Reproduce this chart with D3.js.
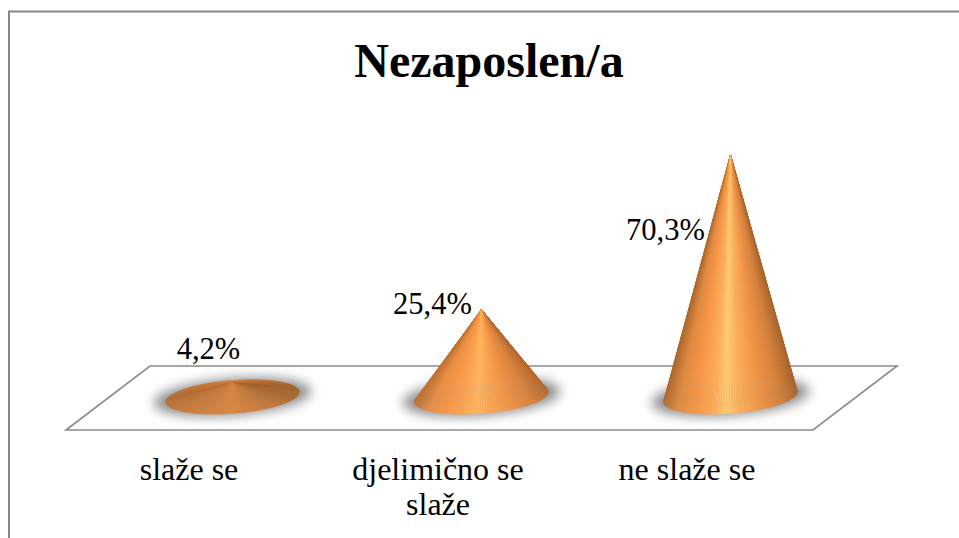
<!DOCTYPE html>
<html>
<head>
<meta charset="utf-8">
<script src="https://cdn.jsdelivr.net/npm/d3@7"></script>
<style>
  html, body { margin: 0; padding: 0; background: #fff; }
  svg { display: block; }
  text { font-family: "Liberation Serif", serif; fill: #000; }
</style>
</head>
<body>
<div id="chart"></div>
<script>
'use strict';

var chartTitle = 'Nezaposlen/a';
var categories = ['slaže se', 'djelimično se\nslaže', 'ne slaže se'];
var values = [4.2, 25.4, 70.3];
var valueLabels = ['4,2%', '25,4%', '70,3%'];

// label position relative to the cone apex, picked by eye per cone
var labelNudge = [[-24, -24], [-49, 4], [-65, 85]];

var width = 959, height = 538;

// the floor is a skewed plane, so front edge and cone row are the same band shifted
var floor = { backY: 366, frontY: 430, frontLeft: 66, frontRight: 813, skew: 84 };
var baseY = 397, baseRx = 67, baseRy = 16.5, baseTilt = -4.5;

var svg = d3.select('#chart').append('svg')
    .attr('width', width)
    .attr('height', height);

var defs = svg.append('defs');

defs.append('filter')
    .attr('id', 'soft')
    .attr('x', '-30%').attr('y', '-80%')
    .attr('width', '160%').attr('height', '260%')
    .append('feGaussianBlur')
    .attr('stdDeviation', 6);

var frontX = d3.scaleBand()
    .domain(categories)
    .range([floor.frontLeft, floor.frontRight]);

var coneX = d3.scaleBand()
    .domain(categories)
    .range([floor.frontLeft + floor.skew / 2, floor.frontRight + floor.skew / 2]);

var y = d3.scaleLinear()
    .domain([0, 100])
    .range([baseY, baseY - 344]);

// chart border, only top and left show in the crop
svg.append('path')
    .attr('d', d3.line()([[9, height], [9, 11.5], [width, 11.5]]))
    .attr('fill', 'none')
    .attr('stroke', '#868686')
    .attr('stroke-width', 2);

svg.append('text')
    .attr('x', 489)
    .attr('y', 77)
    .attr('text-anchor', 'middle')
    .attr('font-size', 48)
    .attr('font-weight', 'bold')
    .text(chartTitle);

svg.append('path')
    .attr('d', d3.line()([
        [floor.frontLeft, floor.frontY],
        [floor.frontLeft + floor.skew, floor.backY],
        [floor.frontRight + floor.skew, floor.backY],
        [floor.frontRight, floor.frontY]
    ]) + 'Z')
    .attr('fill', '#fff')
    .attr('stroke', '#8c8c8c')
    .attr('stroke-width', 1.6);

// category labels with the axis, newlines split afterwards
var axis = svg.append('g')
    .attr('transform', 'translate(-1.5,' + floor.frontY + ')')
    .call(d3.axisBottom(frontX).tickSize(0).tickPadding(0));

axis.select('.domain').remove();

axis.selectAll('text')
    .style('font-size', '32px')
    .each(function(d) {
        var el = d3.select(this);
        el.text(null).attr('y', null).attr('dy', null);
        d.split('\n').forEach(function(part, i) {
            el.append('tspan')
                .attr('x', 0)
                .attr('y', 49.5 + i * 35)
                .text(part);
        });
    });

// shading by position across the base, each stop list goes left edge to right edge
var shadeOffsets = [0, 0.1, 0.25, 0.38, 0.47, 0.56, 0.72, 0.88, 1];
var tallStops = ['#b06a2f', '#e08a42', '#f99949', '#fcae5a', '#ffca74', '#fcb05c', '#f19548', '#d5823e', '#ab672d'];
var midStops = ['#c07132', '#e88f45', '#f99949', '#fca753', '#ffb760', '#fca753', '#f19347', '#d9843f', '#b86c30'];
var flatStops = ['#bd7135', '#c97a3a', '#d27e3c', '#d7833f', '#da8640', '#d7833f', '#cc7c3b', '#bc7335', '#a9682e'];

var shades = [flatStops, midStops, tallStops].map(function(stops) {
    return d3.scaleLinear().domain(shadeOffsets).range(stops);
});

var sliceCount = 160;
var tilt = baseTilt * Math.PI / 180;

function rimPoint(theta) {
    var ex = baseRx * Math.cos(theta), ey = baseRy * Math.sin(theta);
    return [ex * Math.cos(tilt) - ey * Math.sin(tilt), baseY + ex * Math.sin(tilt) + ey * Math.cos(tilt)];
}

// fan of slices from apex to rim. back half first (only the flat cone shows it),
// then the front half from the edges in, so dark edges don't pile up at the tip
var slices = d3.range(sliceCount).map(function(k) {
    var from = k * 2 * Math.PI / sliceCount + Math.PI;
    var to = (k + 1) * 2 * Math.PI / sliceCount + Math.PI;
    return { from: from, to: to, back: k < sliceCount / 2, edge: Math.abs(Math.cos((from + to) / 2)) };
}).sort(function(a, b) {
    return (b.back - a.back) || (b.edge - a.edge);
});

var cones = svg.selectAll('g.cone')
    .data(values)
    .enter()
    .append('g')
    .attr('class', 'cone')
    .attr('transform', function(d, i) {
        return 'translate(' + (coneX(categories[i]) + coneX.bandwidth() / 2) + ',0)';
    });

cones.append('ellipse')
    .attr('cx', 0)
    .attr('cy', baseY)
    .attr('rx', baseRx + 12)
    .attr('ry', baseRy + 2)
    .attr('transform', 'rotate(' + baseTilt + ' 0 ' + baseY + ')')
    .attr('fill', '#8c8c8c')
    .attr('filter', 'url(#soft)');

cones.each(function(d, i) {
    var tip = y(d);
    d3.select(this).selectAll('path')
        .data(slices)
        .enter()
        .append('path')
        .attr('d', function(s) {
            return d3.line()([[0, tip], rimPoint(s.from), rimPoint(s.to)]) + 'Z';
        })
        .each(function(s) {
            var mid = rimPoint((s.from + s.to) / 2);
            var c = d3.color(shades[i]((mid[0] + baseRx) / (2 * baseRx)));
            if (s.back) c = c.darker(0.15);
            d3.select(this).attr('fill', c).attr('stroke', c).attr('stroke-width', 0.3);
        });
});

cones.append('text')
    .attr('x', function(d, i) { return labelNudge[i][0]; })
    .attr('y', function(d, i) { return y(d) + labelNudge[i][1]; })
    .attr('text-anchor', 'middle')
    .attr('font-size', 30.5)
    .text(function(d, i) { return valueLabels[i]; });
</script>
</body>
</html>
